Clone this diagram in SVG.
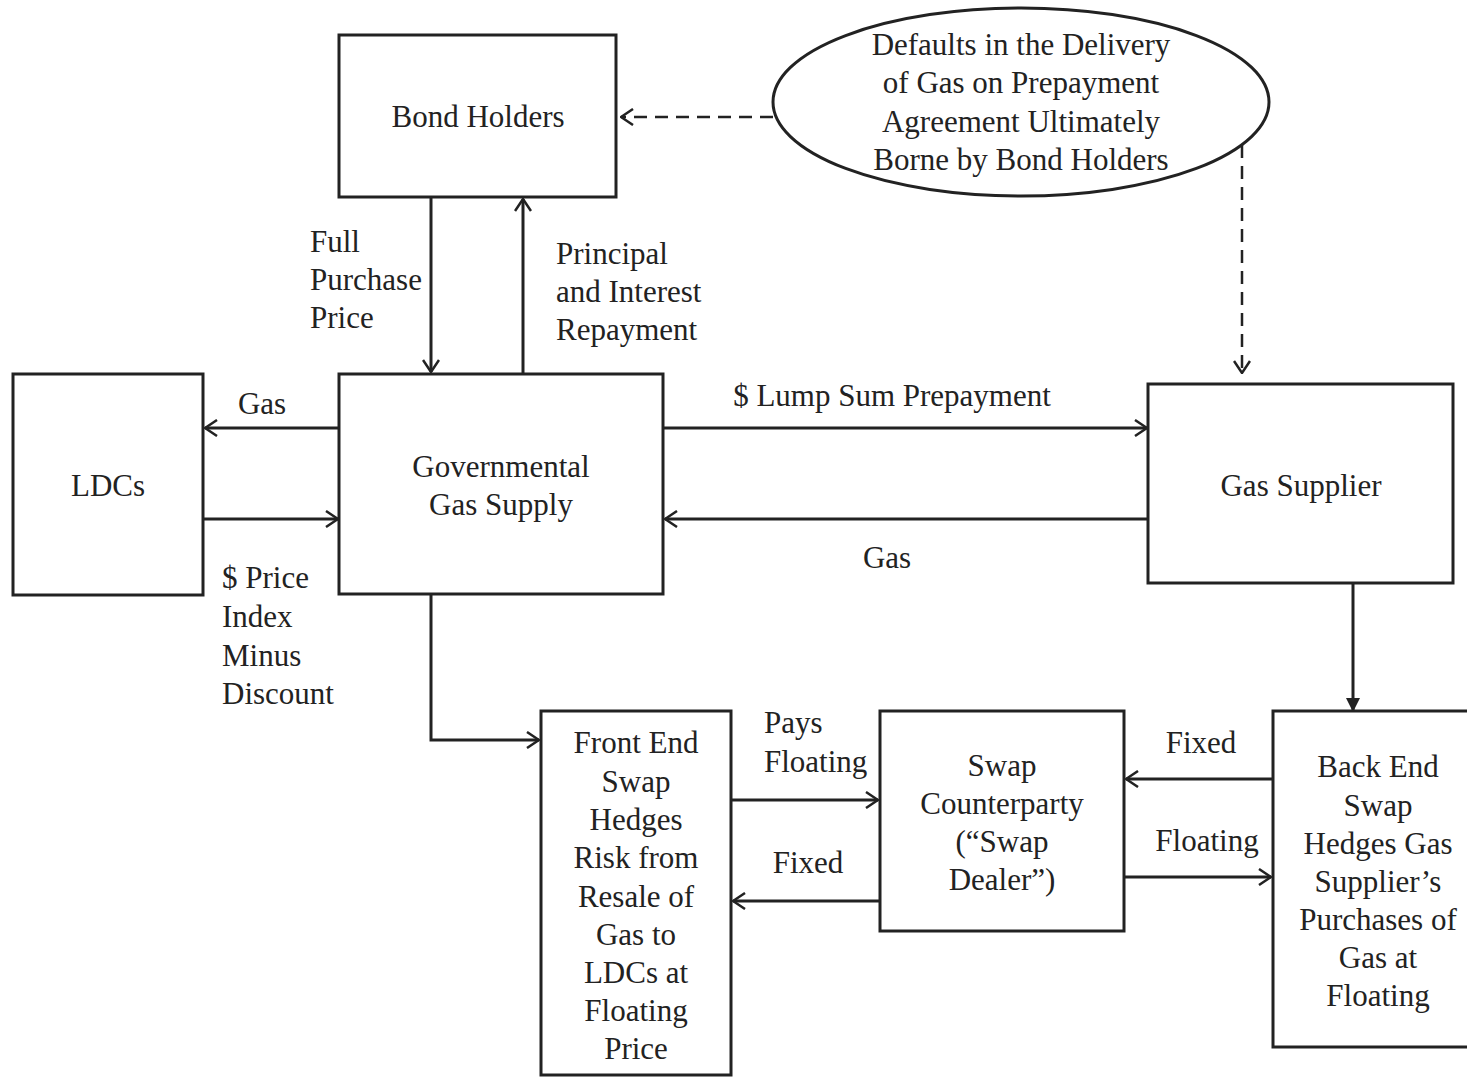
<svg xmlns="http://www.w3.org/2000/svg" width="1467" height="1077" viewBox="0 0 1467 1077">
<style>
.box{fill:#fff;stroke:#222;stroke-width:3}
.t{font-family:"Liberation Serif","Times New Roman",serif;font-size:31px;fill:#222}
.c{text-anchor:middle}
.ln{fill:none;stroke:#222;stroke-width:3}
.dash{fill:none;stroke:#222;stroke-width:2.5;stroke-dasharray:13 8}
</style>
<defs>
<marker id="open" viewBox="0 0 14 18" refX="13" refY="9" markerWidth="14" markerHeight="18" markerUnits="userSpaceOnUse" orient="auto">
<path d="M1,1 L13,9 L1,17" fill="none" stroke="#222" stroke-width="2.5"/>
</marker>
<marker id="solid" viewBox="0 0 14 16" refX="13" refY="8" markerWidth="14" markerHeight="16" markerUnits="userSpaceOnUse" orient="auto">
<path d="M0,1 L14,8 L0,15 Z" fill="#222"/>
</marker>
</defs>
<rect width="1467" height="1077" fill="#fff"/>
<g id="connectors">
<line class="dash" x1="773" y1="117" x2="621" y2="117" marker-end="url(#open)"/>
<line class="dash" x1="1242" y1="145" x2="1242" y2="373" marker-end="url(#open)"/>
<line class="ln" x1="431" y1="197" x2="431" y2="372" marker-end="url(#open)"/>
<line class="ln" x1="523" y1="374" x2="523" y2="199" marker-end="url(#open)"/>
<line class="ln" x1="339" y1="428" x2="205" y2="428" marker-end="url(#open)"/>
<line class="ln" x1="203" y1="519" x2="338" y2="519" marker-end="url(#open)"/>
<line class="ln" x1="663" y1="428" x2="1147" y2="428" marker-end="url(#open)"/>
<line class="ln" x1="1148" y1="519" x2="665" y2="519" marker-end="url(#open)"/>
<polyline class="ln" points="431,594 431,740 539,740" marker-end="url(#open)"/>
<line class="ln" x1="1353" y1="583" x2="1353" y2="711" marker-end="url(#solid)"/>
<line class="ln" x1="731" y1="800" x2="878" y2="800" marker-end="url(#open)"/>
<line class="ln" x1="880" y1="901" x2="733" y2="901" marker-end="url(#open)"/>
<line class="ln" x1="1273" y1="779" x2="1126" y2="779" marker-end="url(#open)"/>
<line class="ln" x1="1124" y1="877" x2="1271" y2="877" marker-end="url(#open)"/>
</g>
<g id="bondholders">
<rect class="box" x="339" y="35" width="277" height="162"/>
<text class="t c" x="478" y="127">Bond Holders</text>
</g>
<g id="defaults">
<ellipse class="box" cx="1021" cy="102" rx="248" ry="94"/>
<text class="t c" x="1021" y="55">Defaults in the Delivery</text>
<text class="t c" x="1021" y="93">of Gas on Prepayment</text>
<text class="t c" x="1021" y="132">Agreement Ultimately</text>
<text class="t c" x="1021" y="170">Borne by Bond Holders</text>
</g>
<g id="ldcs">
<rect class="box" x="13" y="374" width="190" height="221"/>
<text class="t c" x="108" y="496">LDCs</text>
</g>
<g id="gov">
<rect class="box" x="339" y="374" width="324" height="220"/>
<text class="t c" x="501" y="477">Governmental</text>
<text class="t c" x="501" y="515">Gas Supply</text>
</g>
<g id="supplier">
<rect class="box" x="1148" y="384" width="305" height="199"/>
<text class="t c" x="1301" y="496">Gas Supplier</text>
</g>
<g id="frontend">
<rect class="box" x="541" y="711" width="190" height="364"/>
<text class="t c" x="636" y="753">Front End</text>
<text class="t c" x="636" y="792">Swap</text>
<text class="t c" x="636" y="830">Hedges</text>
<text class="t c" x="636" y="868">Risk from</text>
<text class="t c" x="636" y="907">Resale of</text>
<text class="t c" x="636" y="945">Gas to</text>
<text class="t c" x="636" y="983">LDCs at</text>
<text class="t c" x="636" y="1021">Floating</text>
<text class="t c" x="636" y="1059">Price</text>
</g>
<g id="swapdealer">
<rect class="box" x="880" y="711" width="244" height="220"/>
<text class="t c" x="1002" y="776">Swap</text>
<text class="t c" x="1002" y="814">Counterparty</text>
<text class="t c" x="1002" y="852">(“Swap</text>
<text class="t c" x="1002" y="890">Dealer”)</text>
</g>
<g id="backend">
<rect class="box" x="1273" y="711" width="196" height="336"/>
<text class="t c" x="1378" y="777">Back End</text>
<text class="t c" x="1378" y="816">Swap</text>
<text class="t c" x="1378" y="854">Hedges Gas</text>
<text class="t c" x="1378" y="892">Supplier’s</text>
<text class="t c" x="1378" y="930">Purchases of</text>
<text class="t c" x="1378" y="968">Gas at</text>
<text class="t c" x="1378" y="1006">Floating</text>
</g>
<g id="labels">
<text class="t" x="310" y="252">Full</text>
<text class="t" x="310" y="290">Purchase</text>
<text class="t" x="310" y="328">Price</text>
<text class="t" x="556" y="264">Principal</text>
<text class="t" x="556" y="302">and Interest</text>
<text class="t" x="556" y="340">Repayment</text>
<text class="t c" x="262" y="414">Gas</text>
<text class="t" x="222" y="588">$ Price</text>
<text class="t" x="222" y="627">Index</text>
<text class="t" x="222" y="666">Minus</text>
<text class="t" x="222" y="704">Discount</text>
<text class="t c" x="892" y="406">$ Lump Sum Prepayment</text>
<text class="t c" x="887" y="568">Gas</text>
<text class="t" x="764" y="733">Pays</text>
<text class="t" x="764" y="772">Floating</text>
<text class="t c" x="808" y="873">Fixed</text>
<text class="t c" x="1201" y="753">Fixed</text>
<text class="t c" x="1207" y="851">Floating</text>
</g>
</svg>
